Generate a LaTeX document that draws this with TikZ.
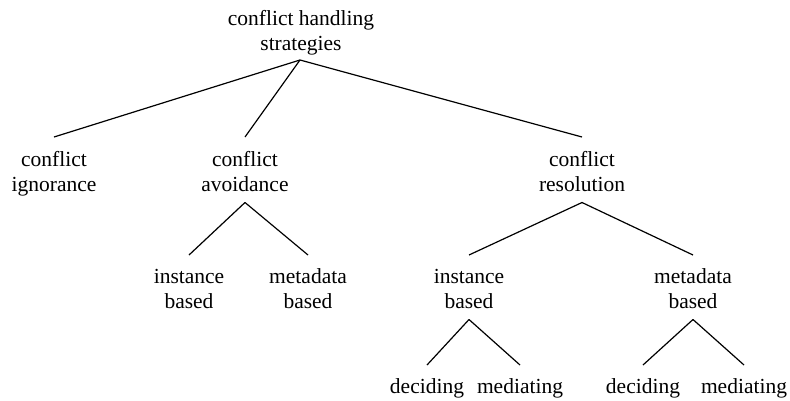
\documentclass[tikz,border=0pt]{standalone}
\usepackage{fontspec}
\setmainfont{Liberation Serif}
\begin{document}
\begin{tikzpicture}[x=1pt,y=-1pt,
  lbl/.style={inner sep=0pt, outer sep=0pt, align=center, anchor=north,
    font={\fontsize{21.5}{25}\selectfont}},
  edge/.style={line width=1.2pt}]
\useasboundingbox (0,0) rectangle (790,400);
% root
\node[lbl] (root) at (301,7.5) {\strut conflict handling\\\strut strategies};
% level 1
\node[lbl] (ign) at (54,148.5) {\strut conflict\\\strut ignorance};
\node[lbl] (avo) at (245,148.5) {\strut conflict\\\strut avoidance};
\node[lbl] (res) at (582,148.5) {\strut conflict\\\strut resolution};
% level 2
\node[lbl] (avi) at (189,265.5) {\strut instance\\\strut based};
\node[lbl] (avm) at (308,265.5) {\strut metadata\\\strut based};
\node[lbl] (rsi) at (469,265.5) {\strut instance\\\strut based};
\node[lbl] (rsm) at (693,265.5) {\strut metadata\\\strut based};
% level 3
\node[lbl] (id) at (427,375.5) {\strut deciding};
\node[lbl] (im) at (520,375.5) {\strut mediating};
\node[lbl] (md) at (643,375.5) {\strut deciding};
\node[lbl] (mm) at (744,375.5) {\strut mediating};
% edges
\draw[edge] ([xshift=-1pt,yshift=-2.5pt]root.south) -- ([yshift=11.5pt]ign.north);
\draw[edge] ([xshift=-1pt,yshift=-2.5pt]root.south) -- ([yshift=11.5pt]avo.north);
\draw[edge] ([xshift=-1pt,yshift=-2.5pt]root.south) -- ([yshift=11.5pt]res.north);
\draw[edge] ([yshift=-4pt]avo.south) -- ([yshift=10.5pt]avi.north);
\draw[edge] ([yshift=-4pt]avo.south) -- ([yshift=10.5pt]avm.north);
\draw[edge] ([yshift=-4pt]res.south) -- ([yshift=10.5pt]rsi.north);
\draw[edge] ([yshift=-4pt]res.south) -- ([yshift=10.5pt]rsm.north);
\draw[edge] ([yshift=-4pt]rsi.south) -- ([yshift=10.5pt]id.north);
\draw[edge] ([yshift=-4pt]rsi.south) -- ([yshift=10.5pt]im.north);
\draw[edge] ([yshift=-4pt]rsm.south) -- ([yshift=10.5pt]md.north);
\draw[edge] ([yshift=-4pt]rsm.south) -- ([yshift=10.5pt]mm.north);
\end{tikzpicture}
\end{document}
